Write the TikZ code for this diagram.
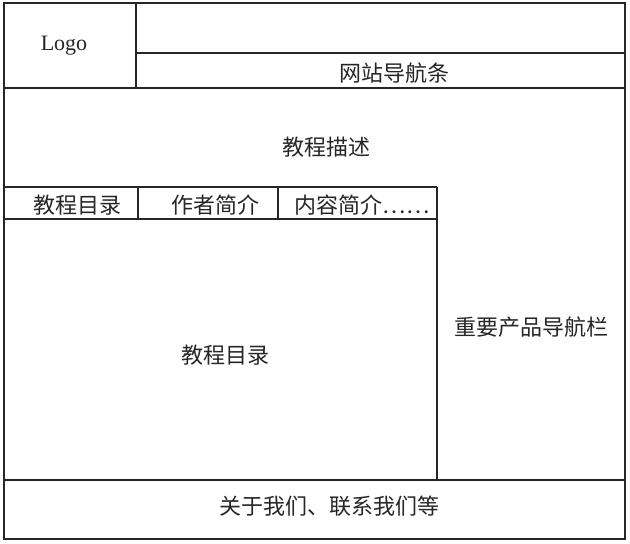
\documentclass[tikz,border=0pt]{standalone}
\usepackage{fontspec}
\setmainfont{Liberation Serif}
\newfontfamily\cjk{Noto Sans CJK SC}
\begin{document}
\begin{tikzpicture}[x=1pt,y=-1pt,
  frame/.style={line width=1.6pt,draw=black!85},
  lbl/.style={inner sep=0pt,font=\cjk\fontsize{22}{24}\selectfont,text=black!85},
  latin/.style={inner sep=0pt,font=\fontsize{22}{24}\selectfont,text=black!85}]
\useasboundingbox (0,0) rectangle (630,544);
\fill[white] (0,0) rectangle (630,544);
% outer frame
\draw[frame] (4,3) rectangle (625,539);
% header
\draw[frame] (136,3) -- (136,88);
\draw[frame] (136,53) -- (625,53);
\draw[frame] (4,88) -- (625,88);
% tabs row
\draw[frame] (4,187) -- (437,187);
\draw[frame] (4,219) -- (437,219);
\draw[frame] (138,187) -- (138,219);
\draw[frame] (278,187) -- (278,219);
% right panel
\draw[frame] (437,187) -- (437,480);
% footer
\draw[frame] (4,480) -- (625,480);
% texts
\node[latin] (logo) at (64,46) {Logo};
\node[lbl] (nav) at (394,73) {网站导航条};
\node[lbl] (desc) at (326,147) {教程描述};
\node[lbl] (tab1) at (78,205) {教程目录};
\node[lbl] (tab2) at (215,205) {作者简介};
\node[lbl] (tab3) at (362,205) {内容简介……};
\node[lbl] (main) at (225,355) {教程目录};
\node[lbl] (side) at (531,327) {重要产品导航栏};
\node[lbl] (foot) at (329,506) {关于我们、联系我们等};
\end{tikzpicture}
\end{document}
